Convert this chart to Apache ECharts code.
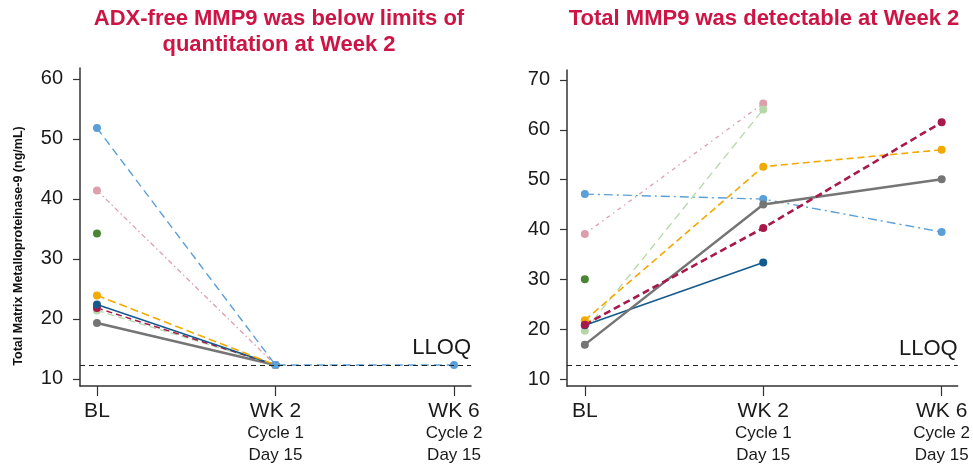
<!DOCTYPE html>
<html>
<head>
<meta charset="utf-8">
<script src="https://cdn.jsdelivr.net/npm/echarts@6/dist/echarts.min.js"></script>
<style>html,body{margin:0;padding:0;background:#fff}#c{width:973px;height:464px}</style>
</head>
<body>
<div id="c"></div>
<script>
// ---- data ----
const xPositions = [0, 1, 2];
const xTickLabels = ['BL', 'WK 2|Cycle 1|Day 15', 'WK 6|Cycle 2|Day 15'];
const leftYTicks = [10, 20, 30, 40, 50, 60];
const rightYTicks = [10, 20, 30, 40, 50, 60, 70];
const lloqLeft = 12.3;
const lloqRight = 12.7;

// Left panel (ADX-free MMP9)
const L_lightBlue = [51.8, 12.3, 12.3];
const L_pink = [41.4, 12.3, null];
const L_darkGreen = [34.2, null, null];
const L_orange = [23.9, 12.3, null];
const L_darkBlue = [22.4, 12.3, null];
const L_crimson = [21.8, 12.3, null];
const L_lightGreen = [21.4, 12.3, null];
const L_gray = [19.3, 12.3, null];

// Right panel (Total MMP9)
const R_lightBlue = [47.1, 46.1, 39.5];
const R_pink = [39.1, 65.3, null];
const R_darkGreen = [30.0, null, null];
const R_lightGreen = [19.7, 64.1, null];
const R_orange = [21.8, 52.6, 56.0];
const R_darkBlue = [20.8, 33.4, null];
const R_crimson = [20.9, 40.3, 61.5];
const R_gray = [16.9, 45.0, 50.1];

// ---- styles ----
const C = {
  lightBlue: '#5b9fd8', pink: '#dca0ac', darkGreen: '#4a8535', lightGreen: '#b7d7a8',
  orange: '#f2a900', darkBlue: '#145a8d', crimson: '#a8184a', gray: '#757575'
};
const FONT = 'Liberation Sans, Arial, sans-serif';

function pts(vals) { return xPositions.map((x, i) => [x, vals[i]]); }
function ser(idx, vals, color, width, type, z) {
  return {
    type: 'line', xAxisIndex: idx, yAxisIndex: idx, data: pts(vals),
    symbol: 'circle', symbolSize: 8, showSymbol: true, connectNulls: false,
    itemStyle: { color: color },
    lineStyle: { color: color, width: width, type: type },
    z: z || 2, animation: false
  };
}
function lloq(idx, y) {
  return {
    type: 'line', xAxisIndex: idx, yAxisIndex: idx, data: [], animation: false,
    markLine: {
      silent: true, symbol: 'none', animation: false,
      lineStyle: { color: '#222', width: 1.2, type: [5, 4] },
      label: { show: true, position: 'insideEndTop', formatter: 'LLOQ', color: '#1a1a1a',
               fontSize: 22, fontFamily: FONT, distance: [0, 6] },
      data: [{ yAxis: y }]
    }
  };
}

const axisLineStyle = { color: '#333', width: 1.5 };
function xAxis(idx, min, max) {
  return {
    type: 'value', gridIndex: idx, min: min, max: max,
    axisLine: { show: true, onZero: false, lineStyle: axisLineStyle },
    axisTick: { show: true, length: 10, lineStyle: { color: '#333', width: 1.2 }, customValues: xPositions },
    splitLine: { show: false },
    axisLabel: {
      customValues: xPositions, margin: 14,
      formatter: function (v) {
        const parts = xTickLabels[Math.round(v)].split('|');
        let s = '{a|' + parts[0] + '}';
        for (let i = 1; i < parts.length; i++) s += '\n{b|' + parts[i] + '}';
        return s;
      },
      rich: {
        a: { fontSize: 21, lineHeight: 22, color: '#1a1a1a', fontFamily: FONT },
        b: { fontSize: 17, lineHeight: 22, color: '#1a1a1a', fontFamily: FONT }
      }
    }
  };
}
function yAxis(idx, min, max, ticks) {
  return {
    type: 'value', gridIndex: idx, min: min, max: max,
    axisLine: { show: true, onZero: false, lineStyle: axisLineStyle },
    axisTick: { show: true, length: 7, lineStyle: { color: '#333', width: 1.2 }, customValues: ticks },
    splitLine: { show: false },
    axisLabel: { customValues: ticks, margin: 17, fontSize: 20, color: '#1a1a1a', fontFamily: FONT }
  };
}

const option = {
  backgroundColor: '#fff',
  animation: false,
  title: [
    { text: 'ADX-free MMP9 was below limits of\nquantitation at Week 2', left: 274, top: 1, textAlign: 'center',
      textStyle: { color: '#cc1445', fontSize: 22, fontWeight: 'bold', lineHeight: 26, fontFamily: FONT } },
    { text: 'Total MMP9 was detectable at Week 2', left: 759, top: 1, textAlign: 'center',
      textStyle: { color: '#cc1445', fontSize: 22, fontWeight: 'bold', lineHeight: 26, fontFamily: FONT } }
  ],
  graphic: [{
    type: 'text', x: 19, y: 246, rotation: Math.PI / 2, silent: true,
    style: { text: 'Total Matrix Metalloproteinase-9 (ng/mL)', fill: '#111', fontSize: 12.5, fontWeight: 'bold',
             fontFamily: FONT, align: 'center', verticalAlign: 'middle' }
  }],
  grid: [
    { left: 80, right: 502, top: 68, bottom: 78 },
    { left: 567, right: 15, top: 70, bottom: 78 }
  ],
  xAxis: [xAxis(0, -0.095, 2.095), xAxis(1, -0.1, 2.09)],
  yAxis: [yAxis(0, 8.8, 61.8, leftYTicks), yAxis(1, 8.6, 72, rightYTicks)],
  series: [
    lloq(0, lloqLeft),
    ser(0, L_gray, C.gray, 2.5, 'solid'),
    ser(0, L_lightGreen, C.lightGreen, 1.3, [7, 4]),
    ser(0, L_crimson, C.crimson, 1.5, [6, 4]),
    ser(0, L_darkBlue, C.darkBlue, 1.6, 'solid'),
    ser(0, L_orange, C.orange, 1.6, [8, 4]),
    ser(0, L_darkGreen, C.darkGreen, 1.5, 'solid'),
    ser(0, L_pink, C.pink, 1.3, [5, 3, 1.5, 3]),
    ser(0, L_lightBlue, C.lightBlue, 1.4, [8, 5], 3),

    lloq(1, lloqRight),
    ser(1, R_darkGreen, C.darkGreen, 1.5, 'solid'),
    ser(1, R_lightBlue, C.lightBlue, 1.4, [9, 4, 2, 4]),
    ser(1, R_pink, C.pink, 1.3, [4, 4, 1.5, 4]),
    ser(1, R_lightGreen, C.lightGreen, 1.3, [8, 5]),
    ser(1, R_orange, C.orange, 1.6, [7, 4]),
    ser(1, R_darkBlue, C.darkBlue, 1.6, 'solid'),
    ser(1, R_gray, C.gray, 2.5, 'solid'),
    ser(1, R_crimson, C.crimson, 2.6, [7, 4])
  ]
};

const chart = echarts.init(document.getElementById('c'), null, { renderer: 'canvas' });
chart.setOption(option);
</script>
</body>
</html>
